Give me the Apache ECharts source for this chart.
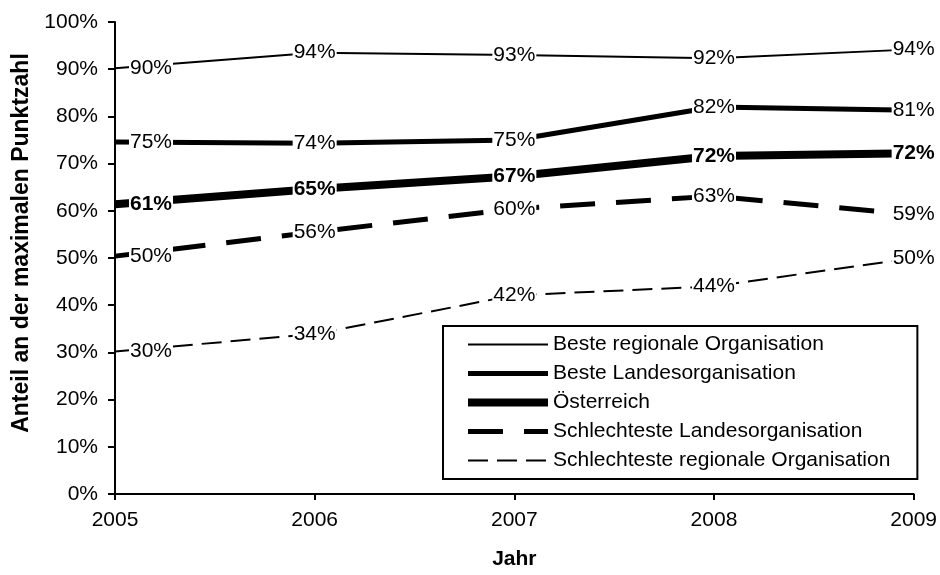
<!DOCTYPE html>
<html>
<head>
<meta charset="utf-8">
<script src="https://cdn.jsdelivr.net/npm/echarts@6/dist/echarts.min.js"></script>
<style>
  html, body { margin: 0; padding: 0; background: #fff; }
  #chart { width: 940px; height: 575px; }
</style>
</head>
<body>
<div id="chart"></div>
<script>
const years = ['2005', '2006', '2007', '2008', '2009'];

// Anteil an der maximalen Punktzahl, in %
const besteRegional = [90.2, 93.5, 93.0, 92.3, 94.2];
const besteLandes = [74.6, 74.3, 75.0, 82.0, 81.3];
const oesterreich = [61.4, 64.6, 67.3, 71.6, 72.2];
const schlechtesteLandes = [50.4, 55.5, 60.4, 63.1, 59.2];
const schlechtesteRegional = [30.2, 33.9, 42.1, 44.0, 50.0];

const FONT = "'Liberation Sans', Arial, sans-serif";

const LINES = [
    { name: 'Beste regionale Organisation', data: besteRegional, width: 2, type: 'solid', bold: false },
    { name: 'Beste Landesorganisation', data: besteLandes, width: 5, type: 'solid', bold: false },
    { name: 'Österreich', data: oesterreich, width: 8, type: 'solid', bold: true },
    { name: 'Schlechteste Landesorganisation', data: schlechtesteLandes, width: 5, type: [35, 21], bold: false },
    { name: 'Schlechteste regionale Organisation', data: schlechtesteRegional, width: 2, type: [20, 9], bold: false }
];

function labelled(values) {
    // first point: label moved right so it does not sit on the y axis
    return values.map((v, i) => i === 0 ? { value: v, label: { offset: [36, 0] } } : v);
}

function makeSeries(l) {
    return {
        name: l.name,
        type: 'line',
        data: labelled(l.data),
        symbol: 'circle',
        symbolSize: 0,
        itemStyle: { color: '#000' },
        lineStyle: { color: '#000', width: l.width, type: l.type, cap: 'butt' },
        label: {
            show: true,
            position: 'inside',
            color: '#000',
            fontFamily: FONT,
            fontSize: 21,
            fontWeight: l.bold ? 'bold' : 'normal',
            backgroundColor: '#fff',
            padding: [0, 1],
            formatter: (p) => Math.round(p.value) + '%'
        },
        emphasis: { disabled: true },
        animation: false
    };
}

const chart = echarts.init(document.getElementById('chart'));

chart.setOption({
    backgroundColor: '#fff',
    textStyle: { fontFamily: FONT },
    grid: { left: 115, right: 20, top: 22, bottom: 77 },
    legend: {
        left: 443,
        top: 326,
        orient: 'vertical',
        padding: [8, 27, 8, 21],
        borderColor: '#000',
        borderWidth: 2,
        backgroundColor: '#fff',
        itemWidth: 80,
        itemHeight: 14,
        itemGap: 8,
        itemStyle: { opacity: 0 },
        data: LINES.map((l) => ({
            name: l.name,
            lineStyle: { color: '#000', width: l.width, type: l.type, cap: 'butt' }
        })),
        textStyle: { color: '#000', fontFamily: FONT, fontSize: 21 },
        selectedMode: false
    },
    xAxis: {
        type: 'category',
        data: years,
        boundaryGap: false,
        name: 'Jahr',
        nameLocation: 'middle',
        nameGap: 55,
        nameTextStyle: { color: '#000', fontFamily: FONT, fontSize: 21, fontWeight: 'bold' },
        axisLine: { lineStyle: { color: '#000', width: 2 } },
        axisTick: { show: true, inside: false, length: 6, alignWithLabel: true, lineStyle: { color: '#000', width: 2 } },
        axisLabel: { color: '#000', fontFamily: FONT, fontSize: 21, margin: 16 },
        splitLine: { show: false }
    },
    yAxis: {
        type: 'value',
        min: 0,
        max: 100,
        interval: 10,
        name: 'Anteil an der maximalen Punktzahl',
        nameLocation: 'middle',
        nameGap: 82,
        nameRotate: 90,
        nameTextStyle: { color: '#000', fontFamily: FONT, fontSize: 23, fontWeight: 'bold', padding: [0, 0, 0, 30] },
        axisLine: { show: true, lineStyle: { color: '#000', width: 2 } },
        axisTick: { show: true, inside: false, length: 7, lineStyle: { color: '#000', width: 2 } },
        axisLabel: { color: '#000', fontFamily: FONT, fontSize: 21, margin: 17, formatter: '{value}%' },
        splitLine: { show: false }
    },
    series: LINES.map(makeSeries)
});
</script>
</body>
</html>
